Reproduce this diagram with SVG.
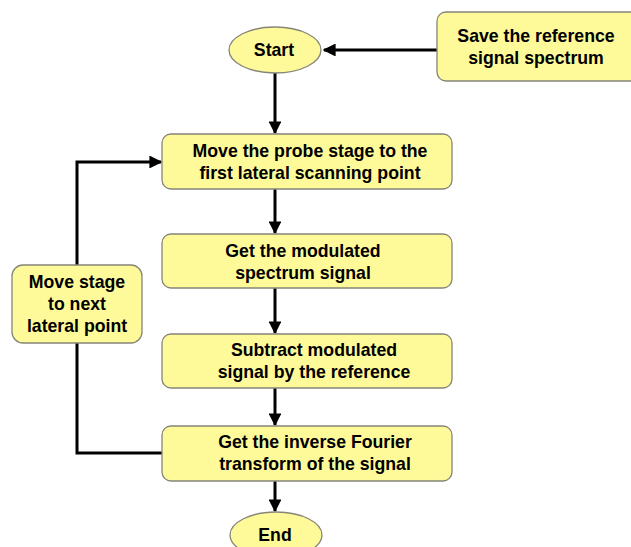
<svg xmlns="http://www.w3.org/2000/svg" width="631" height="547" viewBox="0 0 631 547">
<style>
.n{fill:#FFFA99;stroke:#858578;stroke-width:1.3}
.t{font-family:"Liberation Sans",Arial,sans-serif;font-weight:bold;font-size:17.7px;text-anchor:middle;fill:#000}
.c{fill:none;stroke:#000;stroke-width:3}
</style>
<defs>
<marker id="a" viewBox="0 0 10 10" refX="9" refY="5" markerWidth="4.3" markerHeight="4.3" orient="auto" markerUnits="strokeWidth">
<path d="M0,0 L10,5 L0,10 z" fill="#000"/>
</marker>
</defs>
<rect width="631" height="547" fill="#fff"/>
<g id="connectors">
<path class="c" d="M437,50 H324" marker-end="url(#a)"/>
<path class="c" d="M275,73 V133" marker-end="url(#a)"/>
<path class="c" d="M275,189 V233" marker-end="url(#a)"/>
<path class="c" d="M275,288 V333" marker-end="url(#a)"/>
<path class="c" d="M275,388 V425" marker-end="url(#a)"/>
<path class="c" d="M275,481 V511" marker-end="url(#a)"/>
<path class="c" d="M162,453 H77 V343"/>
<path class="c" d="M77,265 V162 H161" marker-end="url(#a)"/>
</g>
<g id="start"><ellipse class="n" cx="275" cy="50" rx="46" ry="23"/><text class="t" x="274" y="56">Start</text></g>
<g id="save"><rect class="n" x="437" y="12" width="205" height="69" rx="9"/><text class="t" x="536" y="42">Save the reference</text><text class="t" x="536" y="64">signal spectrum</text></g>
<g id="move1"><rect class="n" x="162" y="134" width="290" height="55" rx="9"/><text class="t" x="310" y="157">Move the probe stage to the</text><text class="t" x="310" y="179">first lateral scanning point</text></g>
<g id="get"><rect class="n" x="162" y="234" width="290" height="54" rx="9"/><text class="t" x="303" y="257">Get the modulated</text><text class="t" x="303" y="279">spectrum signal</text></g>
<g id="sub"><rect class="n" x="162" y="334" width="290" height="54" rx="9"/><text class="t" x="314" y="356">Subtract modulated</text><text class="t" x="314" y="378">signal by the reference</text></g>
<g id="ift"><rect class="n" x="162" y="426" width="290" height="55" rx="9"/><text class="t" x="315" y="448">Get the inverse Fourier</text><text class="t" x="315" y="470">transform of the signal</text></g>
<g id="end"><ellipse class="n" cx="276" cy="535" rx="46" ry="23"/><text class="t" x="275" y="541">End</text></g>
<g id="next"><rect class="n" x="12" y="265" width="130" height="78" rx="11"/><text class="t" x="77" y="288">Move stage</text><text class="t" x="77" y="310">to next</text><text class="t" x="77" y="332">lateral point</text></g>
</svg>
